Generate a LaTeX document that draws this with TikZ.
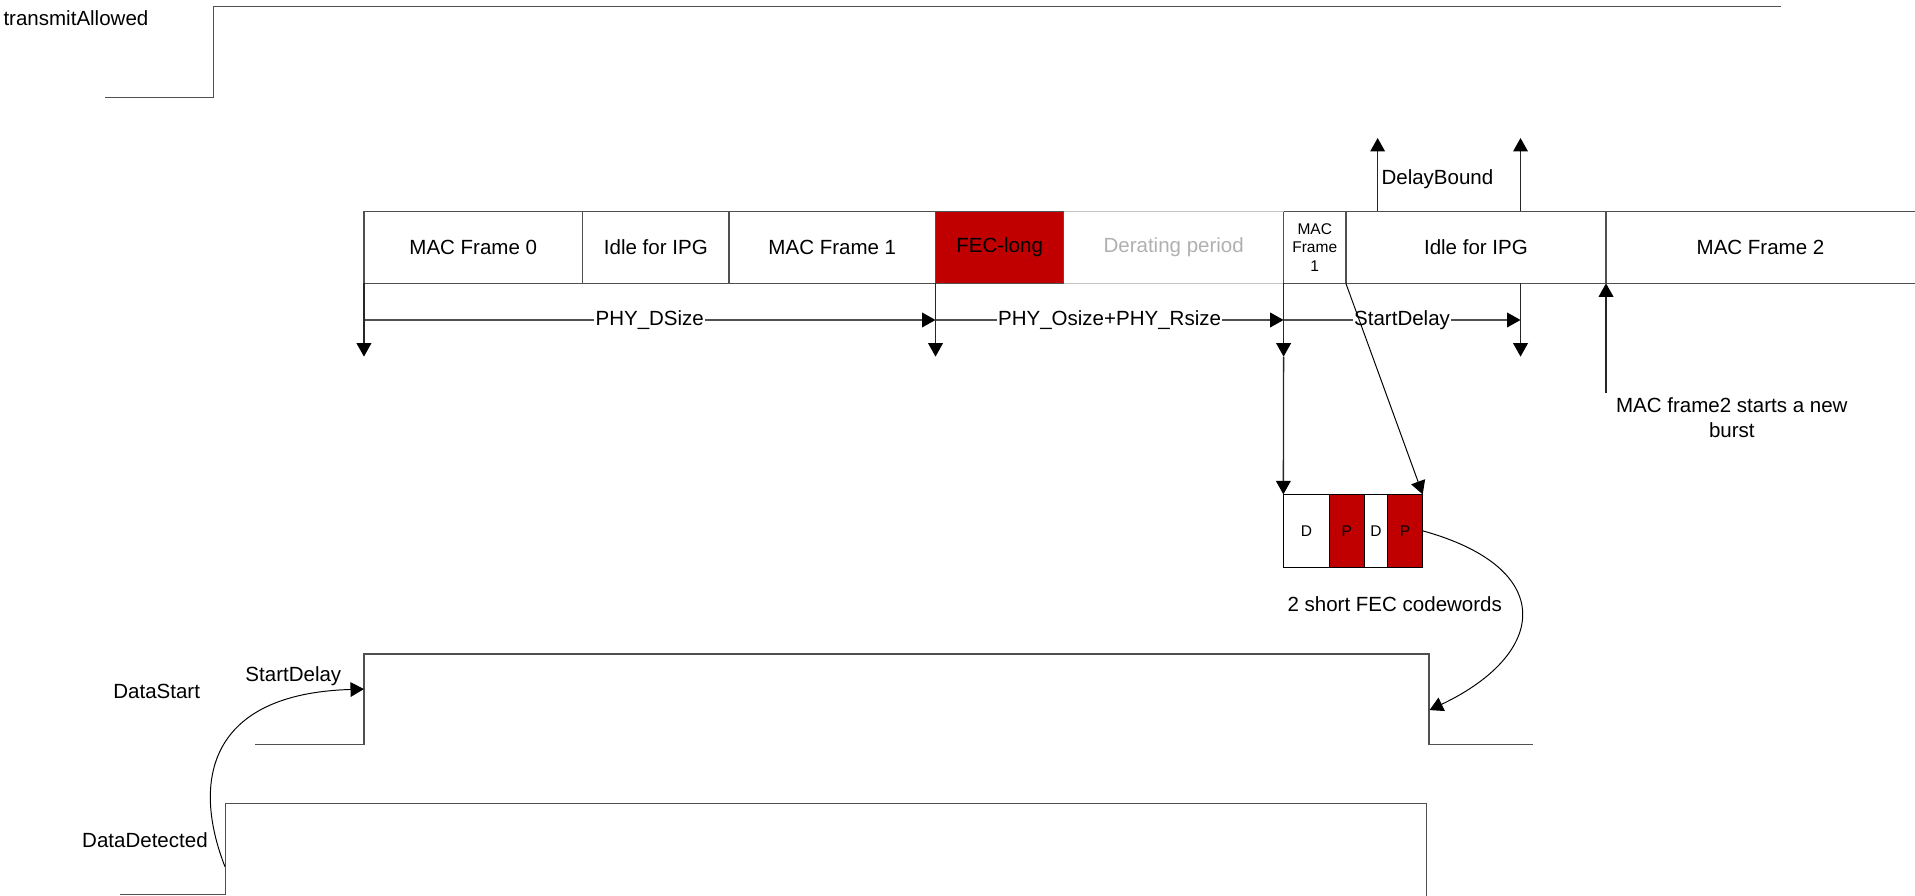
\documentclass[tikz,border=0pt]{standalone}
\usepackage{fontspec}
\setmainfont{Liberation Sans}
\usetikzlibrary{arrows.meta}
\definecolor{fred}{HTML}{C00000}
\definecolor{ln}{HTML}{505050}
\definecolor{lightln}{HTML}{C4C4C4}
\definecolor{lighttx}{HTML}{B0B0B0}
\begin{document}
\begin{tikzpicture}[x=1pt,y=-1pt,
  lab/.style={font=\fontsize{16.8}{20.4}\selectfont, inner sep=0pt},
  fbox/.style={draw=ln, line width=1.1pt, inner sep=0pt, outer sep=0pt, minimum height=59pt, anchor=north west, font=\fontsize{16.8}{20}\selectfont},
  dpbox/.style={draw=black, line width=0.8pt, inner sep=0pt, outer sep=0pt, minimum height=59.7pt, anchor=north west, font=\fontsize{12.7}{15}\selectfont},
  wave/.style={draw=ln, line width=1.2pt},
  vln/.style={draw=black!85, line width=1.1pt},
  tip/.style={-{Triangle[length=11pt,width=12pt,color=black]}},
  dimlab/.style={lab, fill=white, inner sep=1pt},
  thinln/.style={draw=black, line width=0.8pt}
]
\useasboundingbox (0,0) rectangle (1568,733.6);

% signal: transmitAllowed
\node[lab, anchor=west] (ta) at (2.7,15) {transmitAllowed};
\draw[wave] (86,79.7) -- (174.7,79.7) -- (174.7,5.5) -- (1458,5.5);

% frame row
\node[fbox, minimum width=179pt] (mf0) at (298,173) {MAC Frame 0};
\node[fbox, minimum width=120pt] (ipg1) at (477,173) {Idle for IPG};
\node[fbox, minimum width=169pt] (mf1) at (597,173) {MAC Frame 1};
\node[fbox, fill=fred, minimum width=105pt] (fec) at (766,173) {FEC-long};
\node[fbox, draw=none, text=lighttx, minimum width=180pt] (der) at (871,173) {Derating period};
\node[fbox, minimum width=51pt, align=center, font=\fontsize{12.7}{15.3}\selectfont] (mfs) at (1051,173) {MAC\\Frame\\1};
\node[fbox, minimum width=213pt] (ipg2) at (1102,173) {Idle for IPG};
\node[fbox, draw=none, minimum width=253pt] (mf2) at (1315,173) {MAC Frame 2};
\draw[lightln, line width=1.1pt] (der.north west) -- (der.north east) (der.south west) -- (der.south east);
\draw[ln, line width=1.1pt] (mf2.north east) -- (mf2.north west) -- (mf2.south west) -- (mf2.south east);

% coordinates
\coordinate (v0) at (298,292);
\coordinate (v1) at (766,292);
\coordinate (v2) at (1051,292);
\coordinate (b3) at (1245,232);
\coordinate (v3) at (1245,292);
\coordinate (h0) at (298,262);
\coordinate (h1) at (766,262);
\coordinate (h2) at (1051,262);
\coordinate (h3) at (1245,262);
\coordinate (t2) at (1128,173);
\coordinate (u2) at (1128,113);
\coordinate (t3) at (1245,173);
\coordinate (u3) at (1245,113);
\coordinate (nb) at (1315,322);

% dimension arrows
\draw[wave,tip] (h0) -- node[dimlab] (ld) {PHY\_DSize} (h1);
\draw[wave,tip] (h1) -- node[dimlab] (lo) {PHY\_Osize+PHY\_Rsize} (h2);
\draw[wave,tip] (h2) -- node[dimlab] (ls) {StartDelay} (h3);

% vertical markers
\draw[vln,tip] (mf0.south west) -- (v0);
\draw[vln,tip] (fec.south west) -- (v1);
\draw[vln,tip] (mfs.south west) -- (v2);
\draw[vln,tip] (b3) -- (v3);
\draw[vln,tip] (t2) -- (u2);
\draw[vln,tip] (t3) -- (u3);
\node[lab, anchor=west] (db) at (1131,147) {DelayBound};

% new burst
\draw[vln,tip] (nb) -- (mf2.south west);
\node[lab, align=center] (nbl) at (1418,342) {MAC frame2 starts a new\\burst};

% short codewords
\node[dpbox, minimum width=37.7pt] (dp1) at (1050.8,404.8) {D};
\node[dpbox, fill=fred, minimum width=28.6pt] (dp2) at (1088.5,404.8) {P};
\node[dpbox, minimum width=18.9pt] (dp3) at (1117.1,404.8) {D};
\node[dpbox, fill=fred, minimum width=28.9pt] (dp4) at (1136,404.8) {P};
\draw[vln,tip] (v2) -- (dp1.north west);
\draw[thinln,tip] (mfs.south east) -- (dp4.north east);
\node[lab] (sc) at (1142,495) {2 short FEC codewords};

% DataStart
\node[lab] (dsl) at (128.3,566.3) {DataStart};
\draw[wave] (209,609.5) -| (298,535.5) -| (1170,609.5) -- (1255,609.5);
\coordinate (dsrise) at (298,564.2);
\coordinate (dsfall) at (1170.5,581.4);
\draw[thinln,tip] (dp4.east) .. controls (1275,465) and (1268,535) .. (dsfall);

% DataDetected
\node[lab] (ddl) at (118.7,687.8) {DataDetected};
\draw[wave] (98.3,732.6) -| (184.8,658) -| (1168,733.6);
\coordinate (ddrise) at (184.2,709.6);
\node[lab] (sdl) at (240.2,554) {StartDelay};
\draw[thinln,tip] (ddrise) .. controls (157,640) and (170,568) .. (dsrise);
\end{tikzpicture}
\end{document}
